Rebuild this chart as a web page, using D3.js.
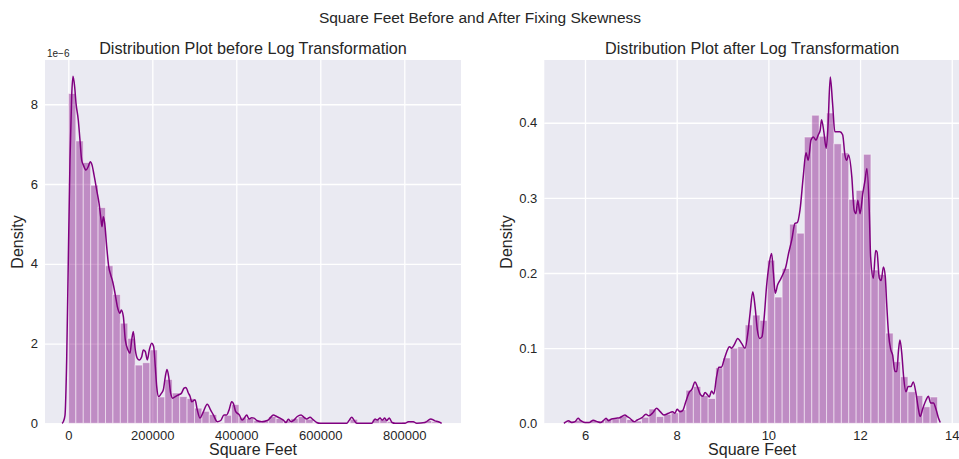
<!DOCTYPE html>
<html>
<head>
<meta charset="utf-8">
<script src="https://cdn.jsdelivr.net/npm/d3@7"></script>
<style>
  body { margin: 0; background: #fff; }
  text { font-family: "Liberation Sans", Arial, sans-serif; fill: #262626; }
</style>
</head>
<body>
<svg id="chart" width="959" height="459"></svg>
<script>
// ---- data: left panel (raw square feet, density in units of 1e-6)
const leftBinRange = [300, 883000];
const leftDensity = [8.27, 7.08, 6.54, 5.97, 5.41, 3.95, 3.23, 2.51, 2.13, 1.46,
    1.52, 1.84, 0.66, 1.1, 0.76, 0.67, 0.62, 0.38, 0.3, 0.22,
    0.02, 0.2, 0.47, 0.15, 0.12, 0.07, 0.06, 0.17, 0.12, 0.06,
    0.12, 0.17, 0.1, 0.02, 0, 0, 0, 0, 0.1, 0,
    0, 0.1, 0.1, 0.04, 0, 0.03, 0.03, 0, 0.07, 0.04];
const leftKde = [[-15000, 0], [-11900, 0.04], [-7900, 0.2], [-3900, 1.59], [0, 4.1], [4000, 6.6],
    [8000, 8.2], [11200, 8.7], [15100, 8.44], [18300, 8.03], [23800, 7.6], [27800, 7.1],
    [31800, 6.6], [35700, 6.48], [42100, 6.35], [47600, 6.44], [52400, 6.56], [56400, 6.48],
    [61200, 6.23], [67600, 5.85], [73100, 5.52], [77100, 5.18], [80200, 4.93], [83300, 5.18],
    [86600, 5.02], [91400, 4.43], [96200, 3.93], [101000, 3.72], [105700, 3.55], [111200, 3.26],
    [116700, 2.93], [123100, 2.76], [126200, 2.84], [131000, 2.68], [135700, 2.09], [142100, 1.84],
    [146900, 1.76], [150900, 2.09], [154800, 2.3], [159500, 1.84], [164300, 1.63], [169000, 1.59],
    [174800, 1.67], [178600, 1.84], [183300, 1.8], [188100, 1.59], [192900, 1.84], [198500, 2.01],
    [203300, 1.92], [207100, 1.42], [210500, 0.92], [215200, 0.67], [221400, 0.75], [226200, 0.84],
    [231000, 1.17], [235000, 1.35], [239000, 1.17], [243800, 0.75], [248600, 0.63], [254800, 0.67],
    [261900, 0.71], [269100, 0.75], [275500, 0.88], [280200, 0.9], [285700, 0.76], [289800, 0.68],
    [293800, 0.54], [301700, 0.59], [307200, 0.33], [313600, 0.13], [319900, 0.25], [330900, 0.48],
    [339000, 0.33], [345300, 0.21], [354800, 0.04], [362900, 0.07], [370700, 0.21], [377100, 0.21],
    [382600, 0.33], [389000, 0.54], [392900, 0.5], [398600, 0.29], [407200, 0.21], [413600, 0.08],
    [419100, 0.13], [424800, 0.21], [430300, 0.11], [436700, 0.14], [442100, 0.13], [448600, 0.07],
    [460500, 0.04], [473800, 0.07], [480300, 0.13], [488100, 0.21], [496200, 0.17], [504100, 0.13],
    [512000, 0.08], [518400, 0.02], [523800, 0.1], [530300, 0.04], [537400, 0.08], [545200, 0.17],
    [554100, 0.21], [561200, 0.15], [567600, 0.11], [575500, 0.15], [581900, 0.1], [591400, 0.02],
    [599300, 0], [662900, 0], [669100, 0.08], [674800, 0.15], [680200, 0.08], [686700, 0],
    [722400, 0], [730300, 0.11], [735700, 0.08], [742200, 0.13], [747600, 0.08], [753400, 0.13],
    [758100, 0.07], [764300, 0.13], [770700, 0.02], [778400, 0], [801700, 0], [809500, 0.04],
    [821400, 0.04], [829500, 0], [849300, 0.02], [862800, 0.11], [873100, 0.06], [881000, 0.04],
    [889000, 0]];
const leftXTicks = [0, 200000, 400000, 600000, 800000];
const leftYTicks = [0, 2, 4, 6, 8];

// ---- data: right panel (log of square feet)
const rightBinRange = [5.62, 13.69];
const rightDensity = [0.003, 0.004, 0.002, 0.004, 0.003, 0.006, 0.006, 0.01, 0.005, 0.003,
    0.008, 0.019, 0.009, 0.012, 0.014, 0.018, 0.044, 0.049, 0.037, 0.033,
    0.074, 0.087, 0.1, 0.102, 0.131, 0.144, 0.137, 0.217, 0.168, 0.206,
    0.265, 0.253, 0.381, 0.41, 0.382, 0.413, 0.372, 0.36, 0.298, 0.31,
    0.358, 0.204, 0.198, 0.12, 0.082, 0.062, 0.042, 0.037, 0.022, 0.035];
const rightKde = [[5.54, 0], [5.585, 0.002], [5.64, 0.0035], [5.71, 0.001], [5.78, 0.002], [5.85, 0.0067],
    [5.9, 0.004], [6.0, 0.001], [6.09, 0.001], [6.18, 0.004], [6.27, 0.002], [6.34, 0.001],
    [6.4, 0.0035], [6.46, 0.0067], [6.51, 0.0035], [6.58, 0.0058], [6.68, 0.0067], [6.76, 0.0075],
    [6.87, 0.011], [6.92, 0.009], [6.98, 0.0067], [7.07, 0.002], [7.14, 0.0044], [7.24, 0.0075],
    [7.33, 0.012], [7.39, 0.01], [7.48, 0.014], [7.56, 0.02], [7.64, 0.0155], [7.72, 0.011],
    [7.82, 0.0133], [7.91, 0.0155], [7.96, 0.0133], [8.01, 0.0186], [8.07, 0.0155], [8.13, 0.0169],
    [8.2, 0.029], [8.28, 0.042], [8.33, 0.045], [8.4, 0.055], [8.45, 0.049], [8.51, 0.039],
    [8.57, 0.036], [8.62, 0.041], [8.67, 0.038], [8.71, 0.035], [8.76, 0.043], [8.81, 0.039],
    [8.87, 0.062], [8.92, 0.0745], [8.98, 0.075], [9.03, 0.084], [9.09, 0.095], [9.15, 0.102],
    [9.2, 0.1], [9.26, 0.105], [9.33, 0.113], [9.42, 0.106], [9.49, 0.1], [9.56, 0.124],
    [9.6, 0.146], [9.66, 0.175], [9.71, 0.155], [9.76, 0.124], [9.81, 0.113], [9.86, 0.115],
    [9.91, 0.142], [9.96, 0.182], [10.02, 0.213], [10.07, 0.226], [10.11, 0.2], [10.15, 0.173],
    [10.2, 0.184], [10.25, 0.19], [10.33, 0.2], [10.38, 0.208], [10.44, 0.226], [10.51, 0.244],
    [10.58, 0.266], [10.63, 0.267], [10.69, 0.284], [10.76, 0.328], [10.82, 0.36], [10.87, 0.35],
    [10.93, 0.377], [10.98, 0.381], [11.04, 0.377], [11.09, 0.384], [11.13, 0.39], [11.16, 0.404],
    [11.21, 0.388], [11.26, 0.366], [11.3, 0.395], [11.35, 0.461], [11.4, 0.426], [11.45, 0.388],
    [11.51, 0.388], [11.56, 0.388], [11.62, 0.384], [11.67, 0.357], [11.71, 0.35], [11.75, 0.357],
    [11.82, 0.328], [11.87, 0.284], [11.91, 0.279], [11.95, 0.297], [12.0, 0.279], [12.06, 0.306],
    [12.11, 0.324], [12.15, 0.339], [12.2, 0.284], [12.23, 0.222], [12.29, 0.193], [12.34, 0.23],
    [12.37, 0.228], [12.42, 0.193], [12.46, 0.19], [12.51, 0.208], [12.55, 0.195], [12.58, 0.16],
    [12.62, 0.12], [12.67, 0.098], [12.71, 0.091], [12.76, 0.069], [12.8, 0.069], [12.84, 0.098],
    [12.87, 0.111], [12.91, 0.093], [12.95, 0.062], [13.0, 0.042], [13.05, 0.049], [13.11, 0.049],
    [13.16, 0.055], [13.22, 0.04], [13.27, 0.02], [13.31, 0.009], [13.37, 0.02], [13.44, 0.031],
    [13.49, 0.036], [13.54, 0.027], [13.6, 0.027], [13.66, 0.018], [13.71, 0.007], [13.75, 0.001]];
const rightXTicks = [6, 8, 10, 12, 14];
const rightYTicks = [0.0, 0.1, 0.2, 0.3, 0.4];

const svg = d3.select('#chart');

svg.append('text')
    .text('Square Feet Before and After Fixing Skewness')
    .attr('x', 480).attr('y', 23)
    .attr('text-anchor', 'middle')
    .attr('font-size', 15.5);

function drawPanel(opts) {
    const x = d3.scaleLinear().domain(opts.xDomain).range([opts.left, opts.right]);
    const y = d3.scaleLinear().domain(opts.yDomain).range([423.3, 60]);
    const g = svg.append('g');

    g.append('rect')
        .attr('x', opts.left).attr('y', 60)
        .attr('width', opts.right - opts.left).attr('height', 423.3 - 60)
        .attr('fill', '#EAEAF2');

    // grid
    g.append('g')
        .attr('transform', 'translate(0,423.3)')
        .call(d3.axisBottom(x).tickValues(opts.xTicks).tickSize(-(423.3 - 60)).tickFormat(opts.xFormat).tickPadding(7))
        .call(a => a.select('.domain').remove())
        .call(a => a.selectAll('.tick line').attr('stroke', '#fff').attr('stroke-width', 1.3))
        .call(a => a.selectAll('.tick text').attr('font-size', 13).attr('fill', '#262626')
            .attr('font-family', '"Liberation Sans", Arial, sans-serif'));

    g.append('g')
        .attr('transform', 'translate(' + opts.left + ',0)')
        .call(d3.axisLeft(y).tickValues(opts.yTicks).tickSize(-(opts.right - opts.left)).tickFormat(opts.yFormat).tickPadding(7))
        .call(a => a.select('.domain').remove())
        .call(a => a.selectAll('.tick line').attr('stroke', '#fff').attr('stroke-width', 1.3))
        .call(a => a.selectAll('.tick text').attr('font-size', 13).attr('fill', '#262626')
            .attr('font-family', '"Liberation Sans", Arial, sans-serif'));

    // histogram bars
    const [lo, hi] = opts.binRange;
    const w = (hi - lo) / opts.density.length;
    g.append('g').selectAll('rect')
        .data(opts.density)
        .enter()
        .append('rect')
        .attr('x', (d, i) => x(lo + i * w))
        .attr('width', (d, i) => x(lo + (i + 1) * w) - x(lo + i * w))
        .attr('y', d => y(d))
        .attr('height', d => y(0) - y(d))
        .attr('fill', 'purple')
        .attr('fill-opacity', 0.4)
        .attr('stroke', '#fff')
        .attr('stroke-opacity', 0.5)
        .attr('stroke-width', 1);

    // kde line
    const line = d3.line()
        .x(d => x(d[0]))
        .y(d => y(d[1]))
        .curve(d3.curveMonotoneX);
    g.append('path')
        .datum(opts.kde)
        .attr('d', line)
        .attr('fill', 'none')
        .attr('stroke', 'purple')
        .attr('stroke-width', 1.5);

    g.append('text')
        .text(opts.title)
        .attr('x', (opts.left + opts.right) / 2).attr('y', 54)
        .attr('text-anchor', 'middle')
        .attr('font-size', 16.2);

    g.append('text')
        .text('Square Feet')
        .attr('x', (opts.left + opts.right) / 2).attr('y', 455)
        .attr('text-anchor', 'middle')
        .attr('font-size', 16);

    g.append('text')
        .text('Density')
        .attr('transform', 'translate(' + opts.yLabelX + ',' + 242 + '),rotate(-90)')
        .attr('text-anchor', 'middle')
        .attr('font-size', 16);
}

drawPanel({
    left: 45, right: 461,
    xDomain: [-55500, 935000], yDomain: [0, 9.11],
    xTicks: leftXTicks, yTicks: leftYTicks,
    xFormat: d3.format('d'), yFormat: d3.format('d'),
    binRange: leftBinRange, density: leftDensity, kde: leftKde,
    title: 'Distribution Plot before Log Transformation',
    yLabelX: 23
});

svg.append('text')
    .text('1e\u22126')
    .attr('x', 47).attr('y', 57)
    .attr('font-size', 10);

drawPanel({
    left: 544.3, right: 960,
    xDomain: [5.112, 14.18], yDomain: [0, 0.4835],
    xTicks: rightXTicks, yTicks: rightYTicks,
    xFormat: d3.format('d'), yFormat: d3.format('.1f'),
    binRange: rightBinRange, density: rightDensity, kde: rightKde,
    title: 'Distribution Plot after Log Transformation',
    yLabelX: 512
});
</script>
</body>
</html>
